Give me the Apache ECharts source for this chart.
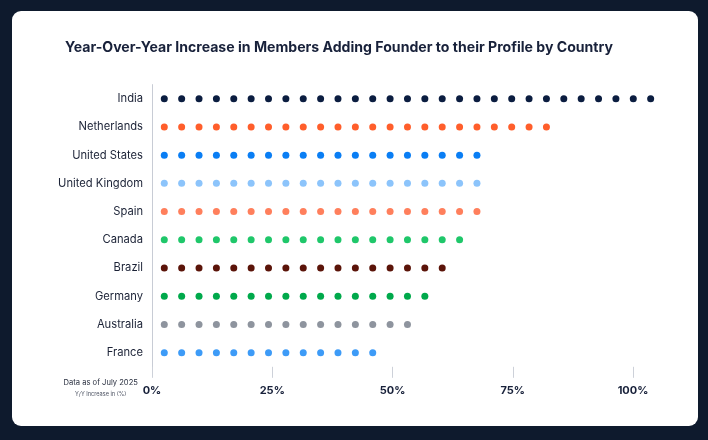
<!DOCTYPE html>
<html>
<head>
<meta charset="utf-8">
<script src="https://cdn.jsdelivr.net/npm/echarts@6/dist/echarts.min.js"></script>
<style>
  html, body { margin: 0; padding: 0; background: #0e1a2d; }
  #card { position: absolute; left: 12px; top: 11px; width: 686px; height: 415px; background: #ffffff; border-radius: 9px; }
  #chart { position: absolute; left: 0; top: 0; width: 708px; height: 440px; }
</style>
</head>
<body>
<div id="card"></div>
<div id="chart"></div>
<script>
var titleText = 'Year-Over-Year Increase in Members Adding Founder to their Profile by Country';
var noteLine1 = 'Data as of July 2025';
var noteLine2 = 'Y/Y Increase in (%)';
var countries = ['India', 'Netherlands', 'United States', 'United Kingdom', 'Spain', 'Canada', 'Brazil', 'Germany', 'Australia', 'France'];
var increases = [104, 82, 68, 68, 68, 64, 60.5, 57, 53, 46];
var dotColors = ['#0b1d40', '#ff5e2b', '#0a7ef4', '#8cc4fb', '#ff7f5c', '#1fc76a', '#5b1409', '#00a94b', '#8e949e', '#3d9bf7'];
var xTicks = [0, 25, 50, 75, 100];

var chart = echarts.init(document.getElementById('chart'), null, { renderer: 'canvas' });
var seriesData = increases.map(function (v, i) {
  return { value: v, itemStyle: { color: dotColors[i] } };
});

chart.setOption({
  backgroundColor: 'transparent',
  animation: false,
  title: {
    text: titleText,
    left: 65,
    top: 40.5,
    padding: 0,
    textStyle: { fontFamily: 'Inter', fontWeight: 700, fontSize: 14.1, color: '#18213a', letterSpacing: -0.6 }
  },
  graphic: [
    { type: 'text', x: 100.7, y: 383, style: { text: noteLine1, align: 'center', verticalAlign: 'middle', fontFamily: 'Inter', fontSize: 7.6, fill: '#2a3040' } },
    { type: 'text', x: 100.7, y: 394.5, style: { text: noteLine2, align: 'center', verticalAlign: 'middle', fontFamily: 'Inter', fontSize: 5.6, fill: '#4a5060' } }
  ],
  grid: { left: 152, right: 75, top: 84.6, height: 282.2, containLabel: false },
  xAxis: {
    type: 'value',
    min: 0,
    max: 100,
    interval: 25,
    axisLine: { show: false },
    splitLine: { show: false },
    axisTick: { show: true, length: 11, lineStyle: { color: '#cdd1d9', width: 1 } },
    axisLabel: {
      margin: 18,
      formatter: function (v) { return xTicks.indexOf(v) >= 0 ? v + '%' : ''; },
      fontFamily: 'Inter', fontWeight: 700, fontSize: 11, color: '#18213a'
    }
  },
  yAxis: {
    type: 'category',
    data: countries,
    inverse: true,
    axisLine: { show: true, lineStyle: { color: '#c8ccd5', width: 1 } },
    axisTick: { show: false },
    axisLabel: { margin: 9, fontFamily: 'Inter', fontSize: 11.2, color: '#1b2236' }
  },
  series: [{
    type: 'pictorialBar',
    data: seriesData,
    symbol: 'circle',
    symbolSize: [7, 7],
    symbolRepeat: true,
    symbolMargin: '5.4!',
    symbolBoundingData: 108.34,
    symbolOffset: [3.6, 0],
    symbolPosition: 'start',
    z: 3
  }]
});
</script>
</body>
</html>
